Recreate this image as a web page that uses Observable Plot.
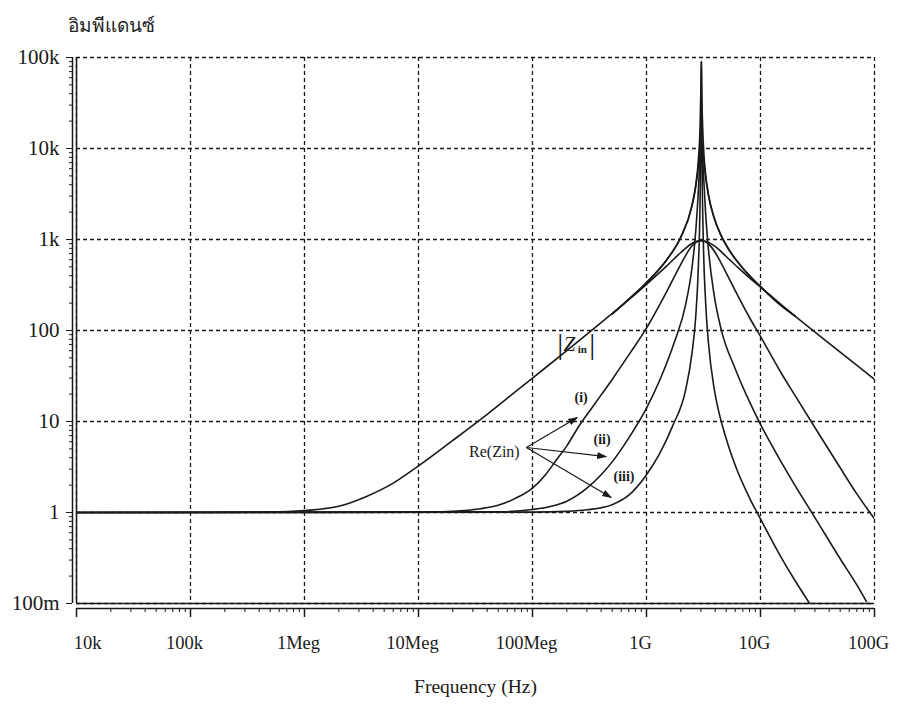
<!DOCTYPE html>
<html><head><meta charset="utf-8">
<script src="https://cdn.jsdelivr.net/npm/d3@7"></script>
<script src="https://cdn.jsdelivr.net/npm/@observablehq/plot@0.6"></script>
<style>
body{margin:0;background:#fff;}
#wrap{position:relative;width:898px;height:713px;}
#title{position:absolute;left:68px;top:10px;font-family:"Liberation Serif","DejaVu Serif",serif;font-size:19px;color:#222;}
</style></head><body><div id="wrap"><div id="title">อิมพีแดนซ์</div></div>
<script>
// ---- tick labels ----
const xTicks = [1e4, 1e5, 1e6, 1e7, 1e8, 1e9, 1e10, 1e11];
const xLabels = ["10k", "100k", "1Meg", "10Meg", "100Meg", "1G", "10G", "100G"];
const yTicks = [0.1, 1, 10, 100, 1e3, 1e4, 1e5];
const yLabels = ["100m", "1", "10", "100", "1k", "10k", "100k"];
const xTitle = "Frequency (Hz)";

// ---- |Zin| curves ----
const zin1F = [1e4, 1e5, 5e5, 1e6, 2e6, 3.5e6, 6e6, 1e7, 2e7, 4e7, 7e7, 1e8, 2e8, 4e8, 7e8, 1e9, 1.5e9, 2e9, 2.5e9, 2.8e9, 3.03e9, 3.3e9, 3.7e9, 4.3e9, 5e9, 6e9, 8e9, 1e10, 2e10, 5e10, 1e11];
const zin1V = [1, 1, 1.01, 1.05, 1.17, 1.5, 2.1, 3.25, 6.2, 12, 21, 30, 60, 122, 218, 322, 510, 720, 905, 960, 970, 955, 895, 780, 650, 525, 378, 300, 145, 58, 29];

const zin2F = [5e8, 7e8, 1e9, 1.5e9, 2e9, 2.5e9, 2.7e9, 2.85e9, 2.95e9, 3.03e9, 3.15e9, 3.3e9, 3.5e9, 3.9e9, 4.5e9, 5.4e9, 7e9, 1e10, 1.5e10, 2e10];
const zin2V = [152, 220, 335, 595, 1060, 2300, 3750, 6300, 9800, 12000, 8200, 4800, 3000, 1750, 1110, 740, 483, 303, 190, 145];

const zin3F = [5e8, 7e8, 1e9, 1.5e9, 2e9, 2.5e9, 2.7e9, 2.85e9, 2.95e9, 3.0e9, 3.015e9, 3.03e9, 3.045e9, 3.08e9, 3.15e9, 3.3e9, 3.5e9, 3.9e9, 4.5e9, 5.4e9, 7e9, 1e10, 1.5e10, 2e10];
const zin3V = [152, 222, 337, 596, 1065, 2360, 3950, 7500, 17300, 45000, 65000, 90000, 50000, 25700, 11400, 5260, 3120, 1775, 1115, 742, 483, 303, 190, 145];

// ---- Re(Zin) curves ----
const re1F = [1e4, 1e6, 1e7, 2e7, 3.5e7, 5e7, 7e7, 1e8, 1.3e8, 1.6e8, 2e8, 2.6e8, 3.5e8, 5e8, 7e8, 1e9, 1.5e9, 2e9, 2.5e9, 2.8e9, 3.03e9, 3.3e9, 3.7e9, 4.3e9, 5e9, 6e9, 8e9, 1e10, 1.5e10, 2e10, 3e10, 5e10, 7e10, 1e11];
const re1V = [1, 1, 1.005, 1.03, 1.1, 1.2, 1.42, 1.85, 2.6, 3.7, 5.4, 9.2, 15.5, 29, 54, 106, 265, 534, 848, 950, 970, 945, 830, 617, 430, 274, 139, 86, 35, 19.5, 8.6, 3.1, 1.6, 0.85];

const re2F = [1e4, 5e7, 1e8, 1.5e8, 2e8, 3e8, 4e8, 5e8, 7e8, 1e9, 1.3e9, 1.76e9, 2.2e9, 2.5e9, 2.7e9, 2.85e9, 2.95e9, 3.03e9, 3.15e9, 3.3e9, 3.5e9, 3.9e9, 4.5e9, 6e9, 8e9, 1e10, 1.5e10, 2e10, 3e10, 5e10, 7e10, 8.5e10];
const re2V = [1, 1.02, 1.08, 1.18, 1.33, 1.85, 2.6, 3.6, 6.6, 14, 28, 75, 190, 480, 1200, 3400, 8100, 12000, 5700, 1950, 760, 256, 105, 38, 16.5, 9.3, 3.7, 2.0, 0.88, 0.31, 0.16, 0.105];

const re3F = [1e4, 1e8, 2e8, 3e8, 5e8, 7e8, 1e9, 1.3e9, 1.7e9, 2.2e9, 2.5e9, 2.7e9, 2.85e9, 2.95e9, 3.0e9, 3.015e9, 3.03e9, 3.045e9, 3.08e9, 3.15e9, 3.3e9, 3.5e9, 3.9e9, 4.1e9, 5e9, 6e9, 8e9, 1e10, 1.5e10, 2e10, 2.7e10];
const re3V = [1, 1.01, 1.03, 1.07, 1.22, 1.55, 2.6, 4.4, 9, 22, 55, 140, 500, 2650, 18000, 54000, 90000, 37000, 5100, 980, 205, 72, 24, 17, 6.5, 3.3, 1.45, 0.85, 0.33, 0.18, 0.1];

// ---- annotations (data coordinates) ----
const arrowFrom = [8.83e7, 5.18];
const arrowTo = [[2.47e8, 11.07], [4.43e8, 4.12], [4.9e8, 1.46]];
const caseLabels = ["(i)", "(ii)", "(iii)"];
const caseLabelPos = [[2.67e8, 18.4], [4.08e8, 6.34], [6.35e8, 2.49]];
const reLabel = "Re(Zin)";
const reLabelPos = [4.63e7, 4.68];
const zinLabelPos = [2.37e8, 70];

// ---- build tables ----
const series = [
  ["zin1", zin1F, zin1V], ["zin2", zin2F, zin2V], ["zin3", zin3F, zin3V],
  ["re1", re1F, re1V], ["re2", re2F, re2V], ["re3", re3F, re3V]
];
const rows = series.flatMap(([k, F, V]) => F.map((f, i) => ({k, f, v: V[i]})));
const yMap = new Map(yTicks.map((d, i) => [d, yLabels[i]]));
const xMap = new Map(xTicks.map((d, i) => [d, xLabels[i]]));
const minorOf = (ticks) => ticks.slice(0, -1).flatMap(d => [2,3,4,5,6,7,8,9].map(m => d * m));
const xMinor = minorOf(xTicks);
const yMinor = minorOf(yTicks);
const arrows = arrowTo.map(([x2, y2]) => ({x1: arrowFrom[0], y1: arrowFrom[1], x2, y2}));
const caseRows = caseLabels.map((t, i) => ({t, x: caseLabelPos[i][0], y: caseLabelPos[i][1]}));

const ink = "#1a1a1a";
const serif = "Liberation Serif, DejaVu Serif, serif";
const filledArrow = (color) => {
  const m = d3.create("svg:marker")
    .attr("viewBox", "-9 -5 10 10")
    .attr("markerWidth", 10).attr("markerHeight", 10)
    .attr("markerUnits", "userSpaceOnUse")
    .attr("orient", "auto")
    .attr("fill", color).attr("stroke", "none");
  m.append("path").attr("d", "M-9,-3.5L1,0L-9,3.5Z");
  return m.node();
};

const chart = Plot.plot({
  width: 898, height: 713,
  marginLeft: 76, marginRight: 24, marginTop: 57, marginBottom: 110,
  x: {type: "log", domain: [1e4, 1e11]},
  y: {type: "log", domain: [0.1, 1e5]},
  style: {fontFamily: serif, fontSize: "18px", color: ink, background: "white"},
  marks: [
    Plot.gridX(xTicks, {stroke: ink, strokeOpacity: 1, strokeWidth: 1.3, strokeDasharray: "4,3"}),
    Plot.gridY(yTicks, {stroke: ink, strokeOpacity: 1, strokeWidth: 1.3, strokeDasharray: "4,3"}),
    Plot.ruleX([1e4], {stroke: ink, strokeWidth: 1.5}),
    Plot.ruleY([0.1], {stroke: ink, strokeWidth: 1.5}),
    Plot.ruleX([1e4], {stroke: ink, strokeWidth: 1.5, dx: -4}),
    Plot.ruleY([0.1], {stroke: ink, strokeWidth: 1.5, dy: 5}),
    Plot.axisY(yTicks, {tickSize: 6, dx: -4, tickPadding: 7, tickFormat: d => yMap.get(d), label: null, fontSize: 21, stroke: ink}),
    Plot.axisY(yMinor, {tickSize: 3, dx: -4, tickFormat: () => "", label: null, stroke: ink}),
    Plot.axisX(xTicks, {tickSize: 9, dy: 5, tickFormat: () => "", label: null, stroke: ink, strokeWidth: 1.5}),
    Plot.axisX(xMinor, {tickSize: 4, dy: 5, tickFormat: () => "", label: null, stroke: ink}),
    Plot.axisX(xTicks.slice(1), {tickSize: 0, dy: 5, dx: -6, tickPadding: 27, tickFormat: d => xMap.get(d), label: null, fontSize: 18.5}),
    Plot.axisX(xTicks.slice(0, 1), {tickSize: 0, dy: 5, dx: 11, tickPadding: 27, tickFormat: d => xMap.get(d), label: null, fontSize: 18.5}),
    Plot.text([xTitle], {frameAnchor: "bottom", dy: 89, fontSize: 19.5, fill: ink}),
    Plot.line(rows, {x: "f", y: "v", z: "k", stroke: ink, strokeWidth: 1.6, curve: "monotone-x", clip: true}),
    Plot.link(arrows, {x1: "x1", y1: "y1", x2: "x2", y2: "y2", stroke: ink, strokeWidth: 1.2, markerEnd: filledArrow}),
    Plot.text(caseRows, {x: "x", y: "y", text: "t", fontSize: 14, fontWeight: "bold", fill: ink}),
    Plot.text([reLabel], {x: reLabelPos[0], y: reLabelPos[1], fontSize: 16, fill: ink}),
    Plot.text(["|"], {x: zinLabelPos[0], y: zinLabelPos[1], dx: -15, fontSize: 30, fill: ink}),
    Plot.text(["Z"], {x: zinLabelPos[0], y: zinLabelPos[1], dx: -6, fontSize: 21, fontStyle: "italic", fill: ink}),
    Plot.text(["in"], {x: zinLabelPos[0], y: zinLabelPos[1], dx: 7, dy: 5, fontSize: 11, fontWeight: "bold", fill: ink}),
    Plot.text(["|"], {x: zinLabelPos[0], y: zinLabelPos[1], dx: 17, fontSize: 30, fill: ink})
  ]
});
document.getElementById("wrap").appendChild(chart);
</script></body></html>
